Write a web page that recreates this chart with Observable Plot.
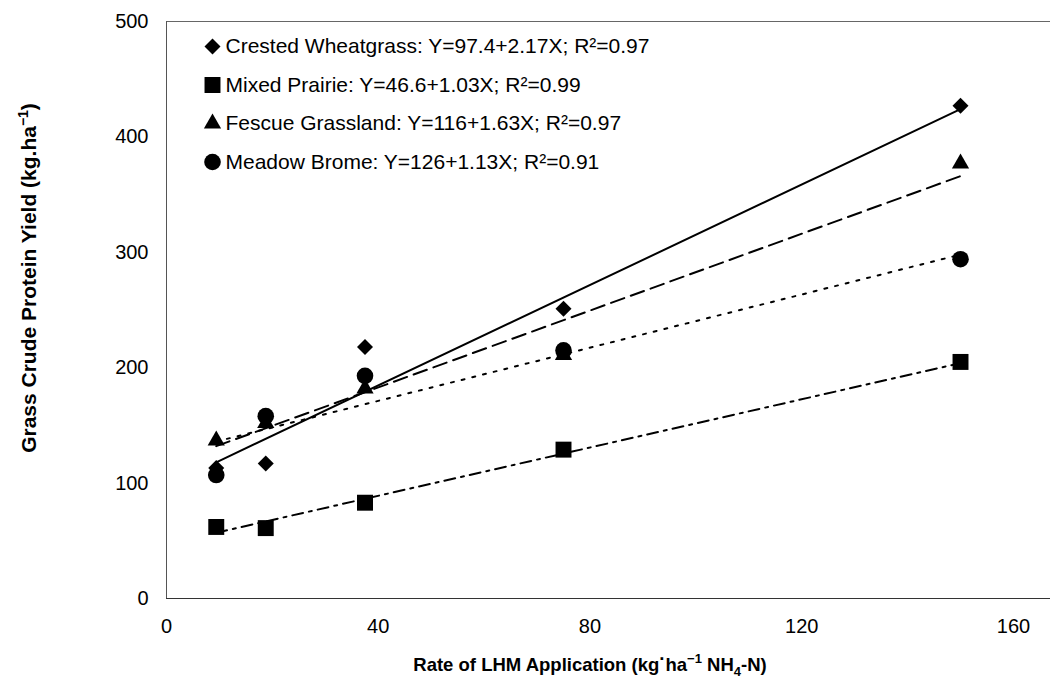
<!DOCTYPE html>
<html><head><meta charset="utf-8">
<script src="https://cdn.jsdelivr.net/npm/d3@7"></script>
<script src="https://cdn.jsdelivr.net/npm/@observablehq/plot@0.6"></script>
<style>
body{margin:0;background:#fff}
svg{font-family:Arial,"Liberation Sans",sans-serif}
</style>
</head><body><div id="chart"></div>
<script>
// x: rate of LHM application
const rates = [9.4, 18.75, 37.5, 75, 150];
const seriesNames = ["Crested Wheatgrass", "Mixed Prairie", "Fescue Grassland", "Meadow Brome"];
const equations = ["Y=97.4+2.17X; R²=0.97", "Y=46.6+1.03X; R²=0.99", "Y=116+1.63X; R²=0.97", "Y=126+1.13X; R²=0.91"];
// observed yields
const crested = [113, 117, 218, 251, 427];
const mixed = [62, 61, 83, 129, 205];
const fescue = [137, 152, 182, 211, 377];
const meadow = [107, 158, 193, 215, 294];
// fitted line end points
const fitRates = [9.4, 150];
const crestedFit = [118, 424];
const mixedFit = [57, 204];
const fescueFit = [132, 366];
const meadowFit = [136, 298];
// axes
const xDomain = [0, 167];
const yDomain = [0, 500];
const xTicks = [0, 40, 80, 120, 160];
const yTicks = [0, 100, 200, 300, 400, 500];

const values = [crested, mixed, fescue, meadow];
const fits = [crestedFit, mixedFit, fescueFit, meadowFit];
const symbols = ["diamond2", "square", "triangle", "circle"];
const radii = [7.2, 9.0, 6.4, 8.3];
const dashes = [null, "11,6,3,6", "14,7", "3,8"];

const marks = [
  Plot.ruleY([yDomain[0]], {stroke: "#333", strokeWidth: 1.2}),
  Plot.ruleY([yDomain[1]], {stroke: "#666", strokeWidth: 1}),
  Plot.ruleX([xDomain[0]], {stroke: "#555", strokeWidth: 1})
];
values.forEach((vals, i) => {
  const fitData = fitRates.map((x, j) => ({x, y: fits[i][j]}));
  marks.push(Plot.line(fitData, {x: "x", y: "y", stroke: "#000", strokeWidth: 2, strokeDasharray: dashes[i]}));
});
values.forEach((vals, i) => {
  const pts = rates.map((x, j) => ({x, y: vals[j]}));
  marks.push(Plot.dot(pts, {x: "x", y: "y", symbol: symbols[i], r: radii[i], fill: "#000", stroke: "none"}));
  marks.push(Plot.dot([seriesNames[i]], {frameAnchor: "top-left", dx: 46, dy: 25 + i * 38.5, symbol: symbols[i], r: radii[i], fill: "#000", stroke: "none"}));
  marks.push(Plot.text([seriesNames[i] + ": " + equations[i]], {frameAnchor: "top-left", dx: 59, dy: 25 + i * 38.5, text: d => d, textAnchor: "start", lineAnchor: "middle", fontSize: 21, fill: "#000"}));
});
marks.push(Plot.axisX({ticks: xTicks, tickSize: 0, tickPadding: 20, fontSize: 20, label: null}));
marks.push(Plot.axisY({ticks: yTicks, tickSize: 0, tickPadding: 18, fontSize: 20, label: null}));

const plot = Plot.plot({
  width: 1051, height: 680,
  marginLeft: 166, marginRight: 1, marginTop: 21, marginBottom: 82,
  x: {domain: xDomain},
  y: {domain: yDomain},
  style: {fontFamily: "Arial, 'Liberation Sans', sans-serif", color: "#000", background: "#fff"},
  marks
});

const svg = d3.select(plot);
// y axis title
const yt = svg.append("text")
  .attr("transform", "translate(36,278) rotate(-90)")
  .attr("text-anchor", "middle")
  .attr("font-weight", "bold").attr("font-size", 21).attr("fill", "#000");
yt.append("tspan").text("Grass Crude Protein Yield (kg.ha");
yt.append("tspan").attr("dy", -8).attr("font-size", 14).text("−1");
yt.append("tspan").attr("dy", 8).text(")");
// x axis title
const xt = svg.append("text")
  .attr("x", 590).attr("y", 671)
  .attr("text-anchor", "middle")
  .attr("font-weight", "bold").attr("font-size", 18.5).attr("fill", "#000");
xt.append("tspan").text("Rate of LHM Application (kg");
xt.append("tspan").attr("dy", -6).text("·");
xt.append("tspan").attr("dy", 6).text("ha");
xt.append("tspan").attr("dy", -8).attr("font-size", 13).text("−1");
xt.append("tspan").attr("dy", 8).text(" NH");
xt.append("tspan").attr("dy", 5).attr("font-size", 13).text("4");
xt.append("tspan").attr("dy", -5).text("-N)");

document.getElementById("chart").appendChild(plot);
</script>
</body></html>
